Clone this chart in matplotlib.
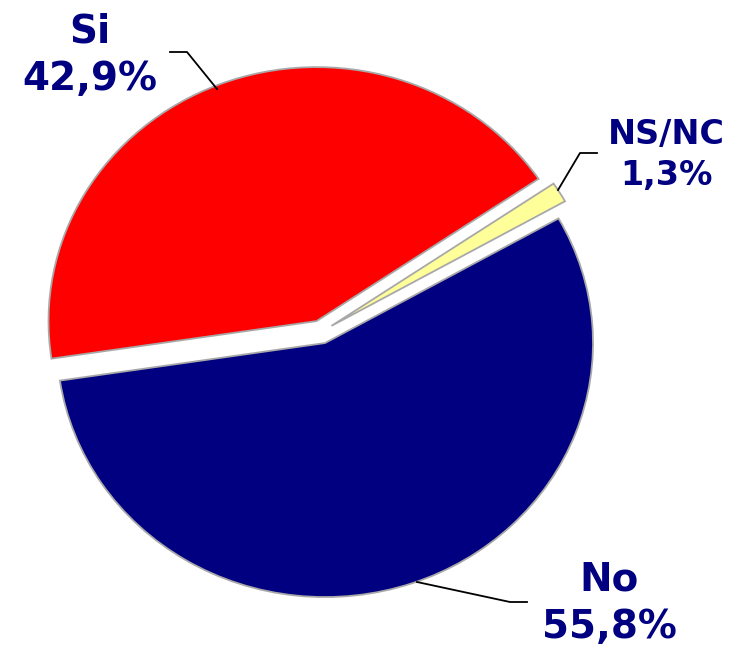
import matplotlib
matplotlib.use("Agg")
import matplotlib.pyplot as plt
from matplotlib.lines import Line2D

categories = ["Si", "NS/NC", "No"]
values = [42.9, 1.3, 55.8]
colors = ["#FF0000", "#FFFF99", "#000080"]

W, H = 731, 650
fig = plt.figure(figsize=(W / 100, H / 100), dpi=100)
ax = fig.add_axes([0, 0, 1, 1])

RX, RY = 268, 254          # pie radii in pixels (slightly oval)
cx, cy = 321, 332          # pie centre, pixels from top-left

ax.pie(values, colors=colors, startangle=188.5, counterclock=False,
       explode=[0.046] * len(values), center=(cx / RX, (H - cy) / RY), radius=1,
       wedgeprops=dict(edgecolor="#A8A8A8", linewidth=1.3))
ax.set_aspect("auto")
ax.set_xlim(0, W / RX)
ax.set_ylim(0, H / RY)
ax.axis("off")

def fx(x):
    return x / W

def fy(y):
    return 1 - y / H

label_pos = [(90, 55, 28), (666, 155, 24), (609, 603, 28)]
leaders = [
    [(170, 52), (187, 52), (217, 89)],
    [(597, 153), (580, 153), (558, 190)],
    [(527, 602), (510, 602), (417, 582)],
]
for cat, val, (x, y, fs), pts in zip(categories, values, label_pos, leaders):
    txt = f"{cat}\n{val:.1f}%".replace(".", ",")
    fig.text(fx(x), fy(y), txt, ha="center", va="center", fontsize=fs,
             fontweight="bold", color="#000080", linespacing=1.3,
             family=["DejaVu Sans"])
    fig.add_artist(Line2D([fx(p[0]) for p in pts], [fy(p[1]) for p in pts],
                          transform=fig.transFigure, color="black", lw=1.3))

fig.savefig("out.png", dpi=100)
